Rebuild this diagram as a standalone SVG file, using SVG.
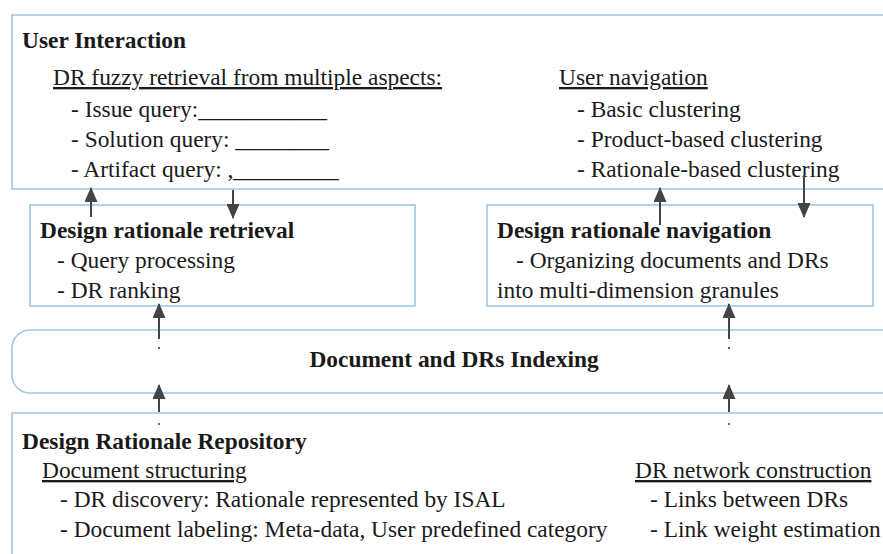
<svg xmlns="http://www.w3.org/2000/svg" width="883" height="554" viewBox="0 0 883 554">
<defs>
<style>
.box{fill:none;stroke:#9cc8e4;stroke-width:1.6}
text{font-family:"Liberation Serif","Times New Roman",serif;font-size:23.4px;fill:#1a1a1a}
.b{font-weight:bold}
.u{text-decoration:underline}
.ar{stroke:#444;stroke-width:2;fill:none}
.dot{fill:#444}
</style>
<marker id="ah" viewBox="0 0 15 13" refX="14" refY="6.5" markerWidth="15" markerHeight="13" orient="auto" markerUnits="userSpaceOnUse">
<path d="M0,0 L15,6.5 L0,13 z" fill="#444"/>
</marker>
</defs>
<rect width="883" height="554" fill="#fff"/>

<g id="user-interaction">
<path class="box" d="M883,15 H12 V189 H883"/>
<text class="b" x="22" y="48">User Interaction</text>
<text class="u" x="53" y="85">DR fuzzy retrieval from multiple aspects:</text>
<text x="71" y="117">- Issue query:___________</text>
<text x="71" y="147">- Solution query: ________</text>
<text x="71" y="177">- Artifact query: ,_________</text>
<text class="u" x="559" y="85">User navigation</text>
<text x="577" y="117">- Basic clustering</text>
<text x="577" y="147">- Product-based clustering</text>
<text x="577" y="177">- Rationale-based clustering</text>
</g>

<g id="dr-retrieval">
<rect class="box" x="30" y="205" width="385" height="101"/>
<text class="b" x="40" y="238">Design rationale retrieval</text>
<text x="57" y="268">- Query processing</text>
<text x="57" y="298">- DR ranking</text>
</g>

<g id="dr-navigation">
<rect class="box" x="487" y="205" width="386" height="101"/>
<text class="b" x="497" y="238">Design rationale navigation</text>
<text x="516" y="268">- Organizing documents and DRs</text>
<text x="497" y="298">into multi-dimension granules</text>
</g>

<g id="indexing">
<path class="box" d="M883,330 H30 A18,18 0 0 0 12,348 V375 A18,18 0 0 0 30,393 H883"/>
<text class="b" x="454" y="367" text-anchor="middle">Document and DRs Indexing</text>
</g>

<g id="repository">
<path class="box" d="M883,413 H12 V554"/>
<text class="b" x="22" y="449">Design Rationale Repository</text>
<text class="u" x="42" y="478">Document structuring</text>
<text x="60" y="507">- DR discovery: Rationale represented by ISAL</text>
<text x="60" y="537">- Document labeling: Meta-data, User predefined category</text>
<text class="u" x="635" y="478">DR network construction</text>
<text x="650" y="507">- Links between DRs</text>
<text x="650" y="537">- Link weight estimation</text>
</g>

<g id="connectors">
<line class="ar" x1="91" y1="217" x2="91" y2="188" marker-end="url(#ah)"/>
<line class="ar" x1="233" y1="190" x2="233" y2="218" marker-end="url(#ah)"/>
<line class="ar" x1="660" y1="225" x2="660" y2="188" marker-end="url(#ah)"/>
<line class="ar" x1="804" y1="175" x2="804" y2="217" marker-end="url(#ah)"/>
<line class="ar" x1="159" y1="339" x2="159" y2="304" marker-end="url(#ah)"/>
<line class="ar" x1="729" y1="339" x2="729" y2="304" marker-end="url(#ah)"/>
<line class="ar" x1="159" y1="412" x2="159" y2="385" marker-end="url(#ah)"/>
<line class="ar" x1="729" y1="412" x2="729" y2="385" marker-end="url(#ah)"/>
<circle class="dot" cx="159" cy="348" r="1.1"/>
<circle class="dot" cx="729" cy="348" r="1.1"/>
<circle class="dot" cx="159" cy="424" r="1.1"/>
<circle class="dot" cx="729" cy="424" r="1.1"/>
</g>
</svg>
